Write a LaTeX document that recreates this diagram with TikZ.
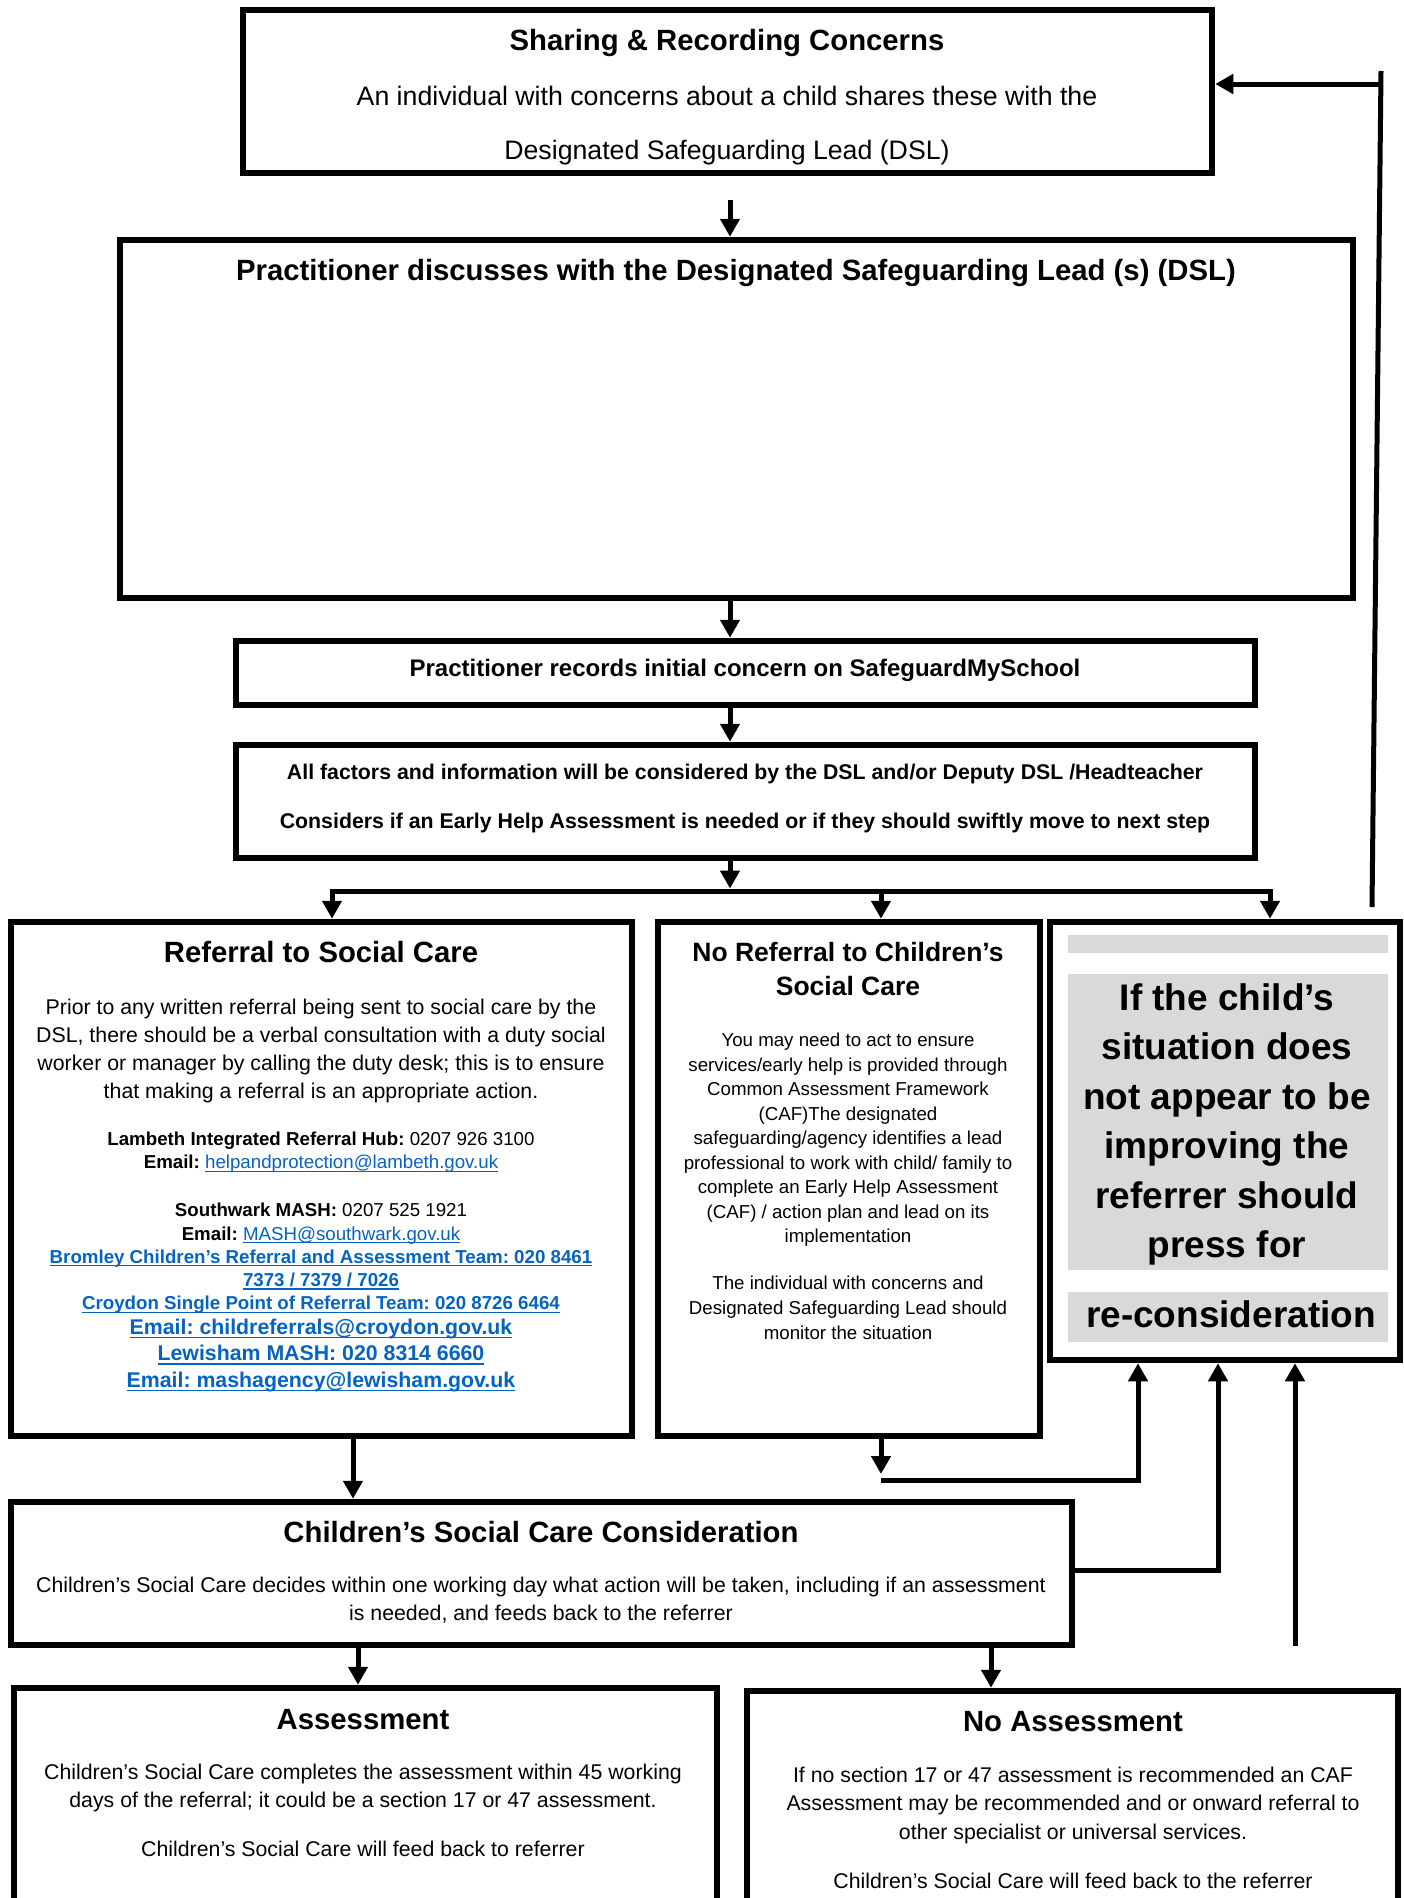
\documentclass[tikz,border=0pt]{standalone}
\usepackage{fontspec}
\setmainfont{Liberation Sans}
\usepackage{xcolor}
\usepackage{tikz}
\usetikzlibrary{arrows.meta,positioning}
\definecolor{linkblue}{RGB}{5,99,193}
\definecolor{panelgray}{RGB}{217,217,217}
\newlength{\linkwd}
\newcommand{\weblink}[1]{\settowidth{\linkwd}{#1}\textcolor{linkblue}{\rlap{\rule[-0.17em]{\linkwd}{0.075em}}#1}}
\frenchspacing

\begin{document}
\begin{tikzpicture}[
        x=1pt, y=-1pt,
        box/.style={draw, line width=6.5pt, inner sep=0pt},
        txt/.style={inner sep=0pt, align=center},
        head/.style={txt, font=\fontsize{29.3}{35}\selectfont\bfseries},
        body/.style={txt, font=\fontsize{21.3}{28.5}\selectfont},
        smalltext/.style={txt, font=\fontsize{18.7}{23.3}\selectfont},
        wire/.style={line width=5pt},
        arrow/.style={-{Triangle[length=18pt,width=19pt]}, line width=5pt}
    ]
        \path[use as bounding box] (0,0) rectangle (1403,1898);
        \clip (0,0) rectangle (1403,1898);

        % boxes
        \node[box, minimum width=969pt, minimum height=163pt] (share) at (727.5,91.5) {};
        \node[box, minimum width=1233pt, minimum height=358pt] (discuss) at (736.5,419) {};
        \node[box, minimum width=1019pt, minimum height=64pt] (record) at (745.5,673) {};
        \node[box, minimum width=1019pt, minimum height=113pt] (factors) at (745.5,801.5) {};
        \node[box, minimum width=621pt, minimum height=514pt] (referral) at (321.5,1179) {};
        \node[box, minimum width=382pt, minimum height=514pt] (noreferral) at (849,1179) {};
        \node[box, minimum width=350pt, minimum height=438pt] (press) at (1225,1141) {};
        \node[box, minimum width=1061pt, minimum height=143pt] (csc) at (541.5,1573.5) {};
        \node[box, minimum width=703pt, minimum height=242pt] (assess) at (365.5,1809) {};
        \node[box, minimum width=651pt, minimum height=239pt] (noassess) at (1072.5,1810.5) {};

        % texts
        \node[head] (sharehead) at (727,43) {Sharing \& Recording Concerns};
        \node[txt, font=\fontsize{26.7}{54}\selectfont] (sharebody) at (727,126)
            {An individual with concerns about a child shares these with the\\Designated Safeguarding Lead (DSL)};
        \node[head] (discusshead) at (736,273) {Practitioner discusses with the Designated Safeguarding Lead (s) (DSL)};
        \node[txt, font=\fontsize{24}{28}\selectfont\bfseries] (recordtext) at (745,670)
            {Practitioner records initial concern on SafeguardMySchool};
        \node[txt, font=\fontsize{21.3}{49}\selectfont\bfseries] (factorstext) at (745,798)
            {All factors and information will be considered by the DSL and/or Deputy DSL /Headteacher\\Considers if an Early Help Assessment is needed or if they should swiftly move to next step};

        \node[head] (refhead) at (321,952.5) {Referral to Social Care};
        \node[body, font=\fontsize{21.3}{28}\selectfont] (refbody) at (321,1051)
            {Prior to any written referral being sent to social care by the\\DSL, there should be a verbal consultation with a duty social\\worker or manager by calling the duty desk; this is to ensure\\that making a referral is an appropriate action.};
        \node[smalltext] (lambeth) at (321,1152.5)
            {\textbf{Lambeth Integrated Referral Hub:} 0207 926 3100\\\textbf{Email:} \weblink{helpandprotection@lambeth.gov.uk}};
        \node[smalltext] (southwark) at (321,1258.5)
            {\textbf{Southwark MASH:} 0207 525 1921\\\textbf{Email:} \weblink{MASH@southwark.gov.uk}\\
             \weblink{\textbf{Bromley Children’s Referral and Assessment Team: 020 8461}}\\
             \weblink{\textbf{7373 / 7379 / 7026}}\\
             \weblink{\textbf{Croydon Single Point of Referral Team: 020 8726 6464}}};
        \node[txt, font=\fontsize{21.3}{26.5}\selectfont\bfseries] (lewisham) at (321,1355.5)
            {\weblink{Email: childreferrals@croydon.gov.uk}\\\weblink{Lewisham MASH: 020 8314 6660}\\\weblink{Email: mashagency@lewisham.gov.uk}};

        \node[txt, font=\fontsize{26.5}{34}\selectfont\bfseries] (norefhead) at (848,969.5)
            {No Referral to Children’s\\Social Care};
        \node[smalltext, font=\fontsize{18.7}{24.5}\selectfont] (norefbody) at (848,1140)
            {You may need to act to ensure\\services/early help is provided through\\Common Assessment Framework\\(CAF)The designated\\safeguarding/agency identifies a lead\\professional to work with child/ family to\\complete an Early Help Assessment\\(CAF) / action plan and lead on its\\implementation};
        \node[smalltext, font=\fontsize{18.7}{25}\selectfont] (norefmonitor) at (848,1308)
            {The individual with concerns and\\Designated Safeguarding Lead should\\monitor the situation};

        \fill[panelgray] (1068,935) rectangle (1388,953);
        \fill[panelgray] (1068,974) rectangle (1388,1270);
        \fill[panelgray] (1068,1292) rectangle (1388,1342);
        \node[txt, font=\fontsize{37}{49.4}\selectfont\bfseries] (presstext) at (1227,1124.5)
            {If the child’s\\situation does\\not appear to be\\improving the\\referrer should\\press for};
        \node[txt, font=\fontsize{37}{44}\selectfont\bfseries] (reconsider) at (1231,1314.5)
            {re-consideration};

        \node[head] (cschead) at (541,1532.5) {Children’s Social Care Consideration};
        \node[body] (cscbody) at (541,1600)
            {Children’s Social Care decides within one working day what action will be taken, including if an assessment\\is needed, and feeds back to the referrer};

        \node[head] (assesshead) at (363,1719.5) {Assessment};
        \node[body] (assessbody) at (363,1788)
            {Children’s Social Care completes the assessment within 45 working\\days of the referral; it could be a section 17 or 47 assessment.};
        \node[body] (assessfeed) at (363,1849) {Children’s Social Care will feed back to referrer};

        \node[head] (noassesshead) at (1073,1721.5) {No Assessment};
        \node[body] (noassessbody) at (1073,1805)
            {If no section 17 or 47 assessment is recommended an CAF\\Assessment may be recommended and or onward referral to\\other specialist or universal services.};
        \node[body] (noassessfeed) at (1073,1881) {Children’s Social Care will feed back to the referrer};

        % helper points
        \coordinate (spine) at (730,0);
        \coordinate (splitin) at (730,888.5);
        \coordinate (barL) at (332,891);
        \coordinate (barM) at (881,891);
        \coordinate (barR) at (1270,891);
        \coordinate (norefcorner) at (881,1480);
        \coordinate (norefturn) at (1138,1480);
        \coordinate (cscturn) at (1218,1570);
        \coordinate (noassessup) at (1295,1646);
        \coordinate (backlow) at (1372,907);
        \coordinate (backtop) at (1381,71);
        \coordinate (backin) at (1381,84);

        % connectors
        \draw[arrow, shorten <=24pt] (share.south -| spine) -- (discuss.north -| spine);
        \draw[arrow] (discuss.south -| spine) -- (record.north -| spine);
        \draw[arrow] (record.south -| spine) -- (factors.north -| spine);
        \draw[arrow] (factors.south -| spine) -- (splitin);
        \draw[wire, line cap=rect] (barL) -- (barR);
        \draw[arrow] (barL) -- (referral.north -| barL);
        \draw[arrow] (barM) -- (noreferral.north -| barM);
        \draw[arrow] (barR) -- (press.north -| barR);

        \draw[wire] (backlow) -- (backtop);
        \draw[arrow] (backin) -- (backin -| share.east);

        \draw[arrow] ([xshift=31.5pt]referral.south) -- ([xshift=31.5pt]referral.south |- csc.north);
        \draw[arrow] ([xshift=-7.5pt]assess.north |- csc.south) -- ([xshift=-7.5pt]assess.north);
        \draw[arrow] ([xshift=-81.5pt]noassess.north |- csc.south) -- ([xshift=-81.5pt]noassess.north);

        \draw[arrow, shorten >=6pt] (noreferral.south -| norefcorner) -- (norefcorner);
        \draw[arrow] (norefcorner) -- (norefturn) -- (norefturn |- press.south);
        \draw[arrow] (cscturn -| csc.east) -- (cscturn) -- (cscturn |- press.south);
        \draw[arrow] (noassessup) -- (noassessup |- press.south);
    \end{tikzpicture}
\end{document}
